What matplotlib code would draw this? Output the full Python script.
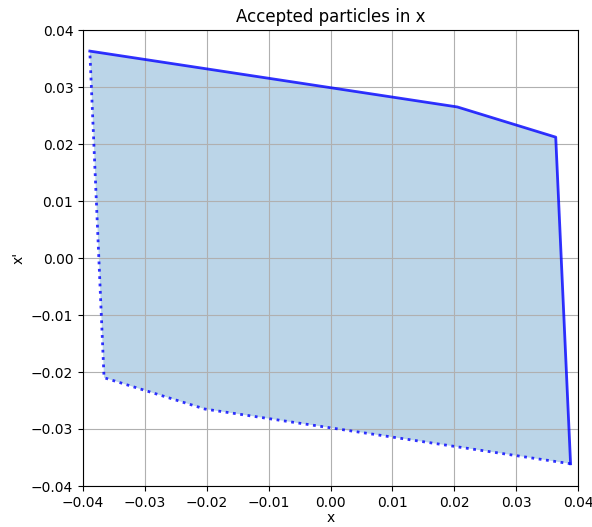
import matplotlib
matplotlib.use("Agg")
import matplotlib.pyplot as plt

# Boundary of accepted region (x, x')
upper_x = [-0.0389, 0.0205, 0.0364, 0.0388]
upper_xp = [0.0363, 0.0265, 0.0212, -0.0361]
lower_x = [0.0388, -0.0203, -0.0366, -0.0389]
lower_xp = [-0.0361, -0.0265, -0.0210, 0.0363]

fig = plt.figure(figsize=(5.92, 5.27), dpi=100)
ax = fig.add_axes([83/592, 1-486/527, 495/592, 456/527])

ax.fill(upper_x + lower_x, upper_xp + lower_xp, color='C0', alpha=0.3, lw=0)
ax.plot(upper_x, upper_xp, '-', color='blue', alpha=0.8, lw=2)
ax.plot(lower_x, lower_xp, ':', color='blue', alpha=0.8, lw=2)

ax.set_xlim(-0.04, 0.04)
ax.set_ylim(-0.04, 0.04)
ax.grid(True)
ax.set_title('Accepted particles in x')
ax.set_xlabel('x', labelpad=1)
ax.set_ylabel("x'")

fig.savefig('out.png', dpi=100)
